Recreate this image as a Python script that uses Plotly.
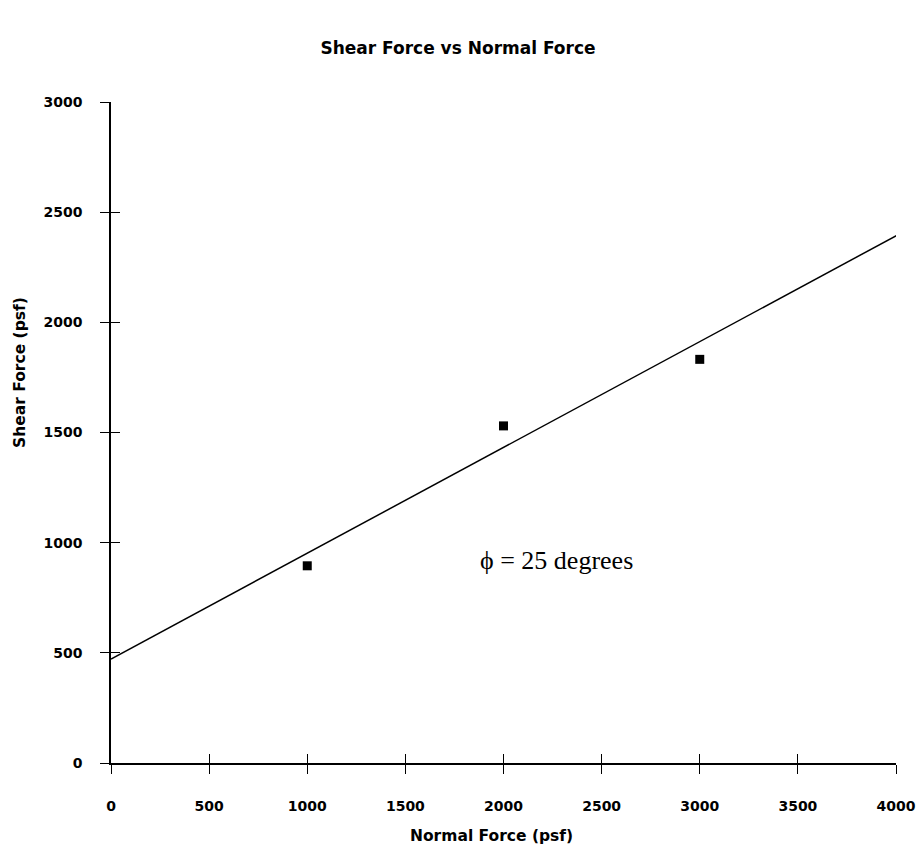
import plotly.graph_objects as go

# Direct shear test results
normal_force = [1000, 2000, 3000]
shear_force = [895, 1530, 1832]

# Failure envelope end points
fit_x = [0, 4030]
fit_y = [472, 2407]

x_ticks = [0, 500, 1000, 1500, 2000, 2500, 3000, 3500, 4000]
y_ticks = [0, 500, 1000, 1500, 2000, 2500, 3000]

label_font = dict(family="DejaVu Sans", size=14, color="black", weight="bold")
axis_title_font = dict(family="DejaVu Sans", size=15.5, color="black")
title_font = dict(family="DejaVu Sans", size=17, color="black")

fig = go.Figure()

fig.add_trace(go.Scatter(
    x=fit_x, y=fit_y, mode="lines",
    line=dict(color="black", width=1.5),
    xaxis="x2", yaxis="y2", showlegend=False, hoverinfo="skip",
))
fig.add_trace(go.Scatter(
    x=normal_force, y=shear_force, mode="markers",
    marker=dict(symbol="square", size=9, color="black"),
    showlegend=False,
))

fig.add_annotation(
    x=2271, y=917, xref="x", yref="y", showarrow=False,
    text="\u03d5 = 25 degrees",
    font=dict(family="Liberation Serif", size=26, color="black"),
)

# Axis titles placed as paper-anchored labels
fig.add_annotation(
    x=-0.116, y=0.5915, xref="paper", yref="paper", showarrow=False,
    text="<b>Shear Force (psf)</b>", textangle=-90,
    xanchor="center", yanchor="middle", font=axis_title_font,
)
fig.add_annotation(
    x=0.4845, y=-0.111, xref="paper", yref="paper", showarrow=False,
    text="<b>Normal Force (psf)</b>",
    xanchor="center", yanchor="middle", font=axis_title_font,
)

axis_common = dict(showgrid=False, zeroline=False, showline=True,
                   linecolor="black", linewidth=1.5, automargin=False,
                   tickcolor="black", tickwidth=1.3, ticklen=9)

fig.update_layout(
    width=916, height=853,
    margin=dict(l=111, r=20, t=102, b=90),
    paper_bgcolor="white", plot_bgcolor="white",
    title=dict(text="<b>Shear Force vs Normal Force</b>", x=0.5, xanchor="center",
               y=1 - 48 / 853, yanchor="middle", font=title_font, automargin=False),
    xaxis=dict(range=[0, 4000], tickvals=x_ticks, ticks="outside",
               tickfont=label_font, ticklabelstandoff=20, **axis_common),
    yaxis=dict(range=[0, 3000], tickvals=y_ticks, ticks="outside",
               tickfont=label_font, ticklabelstandoff=15, **axis_common),
    xaxis2=dict(range=[0, 4000], tickvals=x_ticks, ticks="inside",
                showticklabels=False, overlaying="x", anchor="y2", **axis_common),
    yaxis2=dict(range=[0, 3000], tickvals=y_ticks, ticks="inside",
                showticklabels=False, overlaying="y", anchor="x2", **axis_common),
)

fig.write_html("out.html")
